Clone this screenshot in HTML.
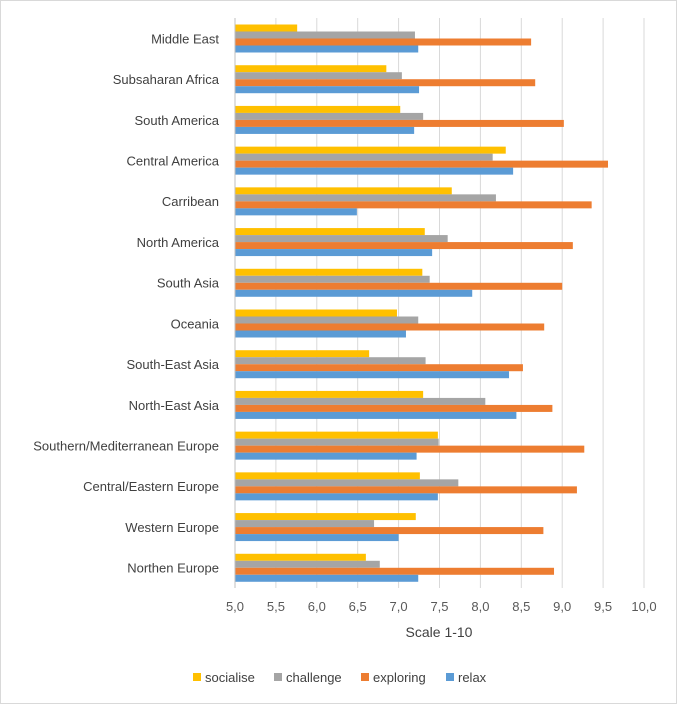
<!DOCTYPE html>
<html><head><meta charset="utf-8"><style>
body{margin:0;background:#fff;font-family:"Liberation Sans",sans-serif;}
#wrap{position:relative;width:677px;height:704px;}
</style></head><body>
<div id="wrap">
<svg id="chart" width="677" height="704"></svg>
</div>
<script>
const categories=["Middle East","Subsaharan Africa","South America","Central America","Carribean","North America","South Asia","Oceania","South-East Asia","North-East Asia","Southern/Mediterranean Europe","Central/Eastern Europe","Western Europe","Northen Europe"];
const seriesNames=["socialise","challenge","exploring","relax"];
const socialise=[5.76,6.85,7.02,8.31,7.65,7.32,7.29,6.98,6.64,7.3,7.48,7.26,7.21,6.6];
const challenge=[7.2,7.04,7.3,8.15,8.19,7.6,7.38,7.24,7.33,8.06,7.49,7.73,6.7,6.77];
const exploring=[8.62,8.67,9.02,9.56,9.36,9.13,9.0,8.78,8.52,8.88,9.27,9.18,8.77,8.9];
const relax=[7.24,7.25,7.19,8.4,6.49,7.41,7.9,7.09,8.35,8.44,7.22,7.48,7.0,7.24];
const ticks=["5,0","5,5","6,0","6,5","7,0","7,5","8,0","8,5","9,0","9,5","10,0"];
const tickVals=[5,5.5,6,6.5,7,7.5,8,8.5,9,9.5,10];
const colors=["#FFC000","#A5A5A5","#ED7D31","#5B9BD5"];
const NS="http://www.w3.org/2000/svg";
const svg=document.getElementById('chart');
const x0=235,x1=644,plotTop=18,plotBottom=588,xmin=5,xmax=10;
const xs=v=>x0+(v-xmin)/(xmax-xmin)*(x1-x0);
const band=(plotBottom-plotTop)/categories.length;
function mk(t,a){const e=document.createElementNS(NS,t);for(const k in a)e.setAttribute(k,a[k]);svg.appendChild(e);return e;}
const border=mk('rect',{x:0.5,y:0.5,width:676,height:703,fill:'none',stroke:'#d9d9d9'});


tickVals.forEach((v,i)=>{
 const g=mk('line',{x1:xs(v),x2:xs(v),y1:plotTop,y2:plotBottom,stroke:'#d9d9d9','stroke-width':1});
 
 
 const t=mk('text',{x:xs(v),y:611,'text-anchor':'middle','font-size':13,fill:'#595959'});
 t.textContent=ticks[i];
 
 
});
const data=[socialise,challenge,exploring,relax];
categories.forEach((c,i)=>{
 const y0=plotTop+i*band;
 const l=mk('text',{x:219,y:y0+band/2+5,'text-anchor':'end','font-size':13,fill:'#404040'});
 l.textContent=c;
 
 
 data.forEach((s,j)=>{
  const r=mk('rect',{x:x0,y:y0+6.5+j*7,width:Math.max(0,xs(s[i])-x0),height:7,fill:colors[j]});
  
  
 });
});
const ax=mk('line',{x1:x0,x2:x0,y1:plotTop,y2:plotBottom,stroke:'#bfbfbf'});


const tt=mk('text',{x:439,y:637,'text-anchor':'middle','font-size':14,fill:'#404040'});
tt.textContent="Scale 1-10";


const lx=[193,274,361,446];
seriesNames.forEach((n,j)=>{
 const r=mk('rect',{x:lx[j],y:673,width:8,height:8,fill:colors[j]});
 
 
 const t=mk('text',{x:lx[j]+12,y:682,'font-size':13,fill:'#404040'});
 t.textContent=n;
 
 
});
</script>
</body></html>
